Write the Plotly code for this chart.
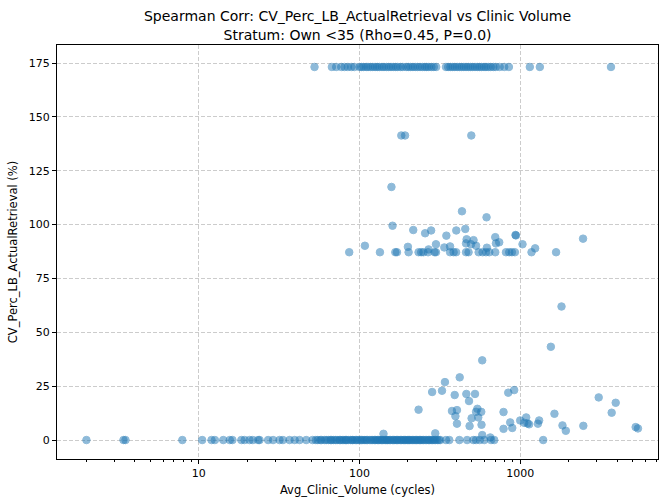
import plotly.graph_objects as go

# Points at CV = 0 (bottom row)
zero_x = [2.0, 3.4, 3.5, 7.9, 10.5, 12.0, 12.6, 14.2, 15.6, 16.2, 18.4, 19.3, 20.7, 21.7, 23.4,
          23.9, 27.0, 29.0, 31.8, 33.4, 36.7, 39.5, 42.4, 46.6, 51, 53.5, 55, 57, 58, 60.5, 62,
          64, 66, 67, 69, 71, 72.5, 75, 76, 78, 80, 82, 83, 85, 88, 90, 91, 94, 96, 98, 101,
          103, 105, 108, 110, 112, 116, 118, 121, 124, 126, 129, 131, 134, 137, 139, 142, 145,
          148, 150, 153, 156, 160, 163, 166, 170, 172, 176, 180, 183, 187, 190, 194, 198, 201,
          205, 209, 213, 218, 222, 226, 231, 236, 240, 245, 250, 256, 262, 268, 273, 279, 285,
          291, 297, 305, 312, 318, 345, 362, 418, 467, 510, 531, 560, 597, 658, 689, 1389]
zero_y = [0.0, 0.0, 0.0, 0.0, 0.0, 0.0, 0.0, 0.0, 0.0, 0.0, 0.0, 0.0, 0.0, 0.0, 0.0,
          0.0, 0.0, 0.0, 0.0, 0.0, 0.0, 0.0, 0.0, 0.0, 0.0, 0.0, 0.0, 0.0, 0.0, 0.0, 0.0,
          0.0, 0.0, 0.0, 0.0, 0.0, 0.0, 0.0, 0.0, 0.0, 0.0, 0.0, 0.0, 0.0, 0.0, 0.0, 0.0, 0.0, 0.0, 0.0, 0.0,
          0.0, 0.0, 0.0, 0.0, 0.0, 0.0, 0.0, 0.0, 0.0, 0.0, 0.0, 0.0, 0.0, 0.0, 0.0, 0.0, 0.0,
          0.0, 0.0, 0.0, 0.0, 0.0, 0.0, 0.0, 0.0, 0.0, 0.0, 0.0, 0.0, 0.0, 0.0, 0.0, 0.0, 0.0,
          0.0, 0.0, 0.0, 0.0, 0.0, 0.0, 0.0, 0.0, 0.0, 0.0, 0.0, 0.0, 0.0, 0.0, 0.0, 0.0, 0.0,
          0.0, 0.0, 0.0, 0.0, 0.0, 0.0, 0.0, 0.0, 0.0, 0.0, 0.0, 0.0, 0.0, 0.0, 0.0, 0.0]

# Low scattered points (roughly 1-45 %)
low_x = [1550, 580, 420, 340, 283, 326, 391, 462, 523, 480, 842, 917, 3076, 3925, 3705,
         233, 376, 404, 395, 404, 541, 531, 572, 548, 498, 484, 574, 787, 866, 787, 892,
         999, 1089, 1058, 1110, 1136, 1311, 1288, 1632, 1831, 1921, 2469, 5224, 5398,
         141, 296, 580, 651]
low_y = [43.3, 37.0, 29.1, 26.9, 22.3, 22.9, 20.9, 21.4, 21.4, 18.1, 22.0, 23.2, 19.8, 17.3, 12.7,
         14.1, 13.5, 13.9, 11.1, 7.6, 14.5, 13.1, 13.1, 10.5, 10.1, 6.5, 7.1, 13.0, 8.2, 5.2, 5.6,
         9.1, 10.5, 8.0, 7.7, 7.3, 9.1, 7.6, 12.2, 6.8, 4.3, 6.6, 6.0, 5.4,
         2.9, 3.1, 2.3, 1.2]

# Middle band (about 60-118 %)
mid_x = [1806, 158, 434, 617, 160.5, 216, 256, 279, 347, 400, 455, 934, 940, 2459, 699, 464,
         512, 108, 200, 299, 337, 366, 460, 494, 531, 740, 706, 1033, 1238, 269, 620,
         86.3, 134, 167, 171, 202, 233, 242, 250, 267, 293, 299, 366, 385, 399, 460, 477,
         551, 583, 612, 642, 699, 815, 854, 887, 926, 1175, 1671]
mid_y = [62.0, 117.5, 106.2, 103.4, 99.5, 97.5, 96.0, 97.3, 94.9, 97.3, 98.0, 95.2, 95.0, 93.5, 94.2, 93.2,
         92.8, 90.2, 89.7, 90.9, 89.4, 89.9, 91.3, 90.9, 90.2, 91.8, 91.3, 90.9, 89.0, 88.5, 89.3,
         87.2, 87.2, 87.2, 87.2, 87.2, 87.2, 87.2, 87.2, 87.2, 87.2, 87.2, 87.2, 87.2, 87.2, 87.2, 87.2,
         87.2, 87.2, 87.2, 87.2, 87.2, 87.2, 87.2, 87.2, 87.2, 87.2, 87.2]

# Row near 141 %
r141_x = [182, 192, 496]
r141_y = [141.4, 141.4, 141.4]

# Top row (173.2 %)
top_x = [52.5, 67.3, 71.6, 77.0, 80.7, 84.7, 88.8, 93, 100, 103, 106, 110, 113, 117, 121, 125,
         129, 133, 138, 142, 147, 152, 157, 162, 168, 173, 180, 186, 195, 201, 208, 215, 222,
         230, 238, 246, 255, 262, 270, 280, 290, 300, 345, 356, 368, 380, 392, 405, 418, 432,
         446, 460, 475, 490, 506, 523, 540, 558, 575, 595, 612, 632, 655, 680, 705, 745, 795,
         850, 1147, 1324, 3669]
top_y = [173.2, 173.2, 173.2, 173.2, 173.2, 173.2, 173.2, 173.2, 173.2, 173.2, 173.2, 173.2, 173.2, 173.2, 173.2, 173.2,
         173.2, 173.2, 173.2, 173.2, 173.2, 173.2, 173.2, 173.2, 173.2, 173.2, 173.2, 173.2, 173.2, 173.2, 173.2, 173.2, 173.2,
         173.2, 173.2, 173.2, 173.2, 173.2, 173.2, 173.2, 173.2, 173.2, 173.2, 173.2, 173.2, 173.2, 173.2, 173.2, 173.2, 173.2,
         173.2, 173.2, 173.2, 173.2, 173.2, 173.2, 173.2, 173.2, 173.2, 173.2, 173.2, 173.2, 173.2, 173.2, 173.2, 173.2, 173.2,
         173.2, 173.2, 173.2, 173.2]

x_tick_vals = [10, 100, 1000]
x_tick_text = ["10", "100", "1000"]
y_tick_vals = [0, 25, 50, 75, 100, 125, 150, 175]
minor_vals = [2, 3, 4, 5, 6, 7, 8, 9, 20, 30, 40, 50, 60, 70, 80, 90,
              200, 300, 400, 500, 600, 700, 800, 900, 2000, 3000, 4000, 5000, 6000, 7000]

all_x = zero_x + low_x + mid_x + r141_x + top_x
all_y = zero_y + low_y + mid_y + r141_y + top_y

FONT = "DejaVu Sans"
fig = go.Figure()
fig.add_trace(go.Scatter(
    x=all_x, y=all_y, mode="markers",
    marker=dict(size=7.5, color="#1f77b4", opacity=0.5,
                line=dict(color="#1f77b4", width=1)),
    showlegend=False,
))

axis_common = dict(
    showline=True, linecolor="black", linewidth=1, mirror=True,
    ticks="outside", ticklen=4, tickwidth=1, tickcolor="black",
    showgrid=True, gridcolor="#cccccc", griddash="4px,2px", gridwidth=1,
    zeroline=False,
    tickfont=dict(family=FONT, size=11, color="black"),
)

fig.update_layout(
    width=660, height=498,
    margin=dict(l=57, r=2, t=45, b=39),
    paper_bgcolor="white", plot_bgcolor="white",
    font=dict(family=FONT, color="black"),
    title=dict(
        text="Spearman Corr: CV_Perc_LB_ActualRetrieval vs Clinic Volume<br>Stratum: Own &lt;35 (Rho=0.45, P=0.0)",
        x=0.5, xref="paper", xanchor="center",
        y=0.957, yref="container", yanchor="top",
        font=dict(family=FONT, size=14, color="black"),
    ),
    xaxis=dict(
        type="log", range=[0.118, 3.857],
        tickmode="array", tickvals=x_tick_vals, ticktext=x_tick_text,
        minor=dict(tickmode="array", tickvals=minor_vals, ticks="outside",
                   ticklen=2, tickcolor="black", showgrid=False),
        title=dict(text="Avg_Clinic_Volume (cycles)", font=dict(family=FONT, size=11.5), standoff=6),
        **axis_common,
    ),
    yaxis=dict(
        range=[-8.8, 183.4],
        tickmode="array", tickvals=y_tick_vals,
        title=dict(text="CV_Perc_LB_ActualRetrieval (%)", font=dict(family=FONT, size=11.5), standoff=8),
        **axis_common,
    ),
)

fig.write_html("out.html", config={"displayModeBar": False},
               post_script="document.body.style.margin='0';document.body.style.overflow='hidden';")
